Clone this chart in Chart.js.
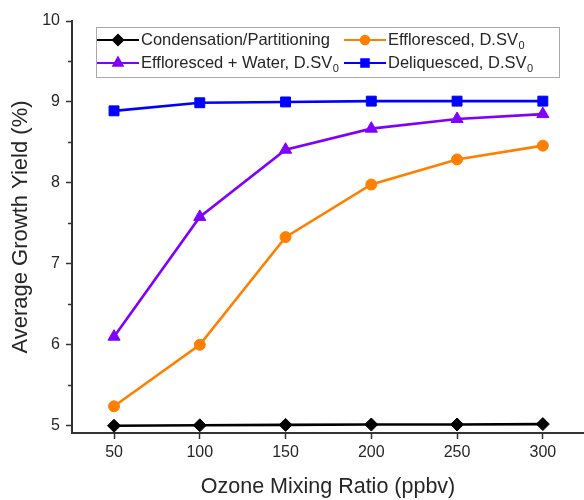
<!DOCTYPE html>
<html>
<head>
<meta charset="utf-8">
<script src="https://cdn.jsdelivr.net/npm/chart.js@4/dist/chart.umd.min.js"></script>
<style>
  html, body { margin: 0; padding: 0; background: #fff; }
  #wrap { width: 584px; height: 500px; }
</style>
</head>
<body>
<div id="wrap"><canvas id="myChart"></canvas></div>
<script>
const ozone = [50, 100, 150, 200, 250, 300]
const condensation = [5.0, 5.005, 5.01, 5.015, 5.015, 5.02]
const effloresced = [5.24, 6.0, 7.33, 7.98, 8.29, 8.46]
const effloWater = [6.1, 7.58, 8.41, 8.67, 8.79, 8.85]
const deliquesced = [8.89, 8.99, 9.0, 9.01, 9.01, 9.01]

const xTicks = [50, 100, 150, 200, 250, 300]
const yTicks = [5, 6, 7, 8, 9, 10]
const yMinorTicks = [5.5, 6.5, 7.5, 8.5, 9.5]

const seriesNames = ['Condensation/Partitioning', 'Effloresced, D.SV', 'Effloresced + Water, D.SV', 'Deliquesced, D.SV']
const seriesSubs = ['', '0', '0', '0']

const FONT = "'Liberation Sans', Arial, sans-serif"
const AXIS = '#333'
const TEXT = '#262626'

const makeSet = (i, data, color, pointStyle, radius, legendRadius) => ({
    label: seriesNames[i] + seriesSubs[i],
    data: ozone.map((x, k) => ({ x, y: data[k] })),
    borderColor: color,
    backgroundColor: color,
    borderWidth: 2.6,
    pointStyle,
    pointRadius: radius,
    pointHoverRadius: radius,
    pointBorderWidth: 1,
    legendRadius,
    tension: 0,
    clip: false
})

const datasets = [
    makeSet(0, condensation, '#000000', 'rectRot', 6.5, 5),
    makeSet(1, effloresced, '#ff8000', 'circle', 5.5, 4.2),
    makeSet(2, effloWater, '#7f00ff', 'triangle', 7, 5.2),
    makeSet(3, deliquesced, '#0000ff', 'rect', 7, 5.2)
]

// order of the legend entries: two columns, two rows
const legendSlots = [
    { ds: 0, col: 0, row: 0 },
    { ds: 1, col: 1, row: 0 },
    { ds: 2, col: 0, row: 1 },
    { ds: 3, col: 1, row: 1 }
]

const legendBox = {
    id: 'legendBox',
    afterDraw(chart) {
        const ctx = chart.ctx
        const box = { left: 96.5, top: 27.5, right: 559.5, bottom: 77.5 }
        const colX = [97, 344]
        const rowY = [40, 63]

        ctx.save()
        ctx.strokeStyle = '#a8a8a8'
        ctx.lineWidth = 1
        ctx.strokeRect(box.left, box.top, box.right - box.left, box.bottom - box.top)

        legendSlots.forEach(slot => {
            const ds = chart.data.datasets[slot.ds]
            const x0 = colX[slot.col]
            const y = rowY[slot.row]

            ctx.strokeStyle = ds.borderColor
            ctx.fillStyle = ds.backgroundColor
            ctx.lineWidth = 2.2
            ctx.beginPath()
            ctx.moveTo(x0, y)
            ctx.lineTo(x0 + 42, y)
            ctx.stroke()
            Chart.helpers.drawPoint(ctx, {
                pointStyle: ds.pointStyle,
                radius: ds.legendRadius,
                rotation: 0,
                borderWidth: 1
            }, x0 + 21, y)

            ctx.fillStyle = TEXT
            ctx.textBaseline = 'middle'
            ctx.textAlign = 'left'
            ctx.font = `16.5px ${FONT}`
            const name = seriesNames[slot.ds]
            ctx.fillText(name, x0 + 44, y)
            const sub = seriesSubs[slot.ds]
            if (sub) {
                const w = ctx.measureText(name).width
                ctx.font = `11px ${FONT}`
                ctx.fillText(sub, x0 + 44 + w + 0.5, y + 5.5)
            }
        })
        ctx.restore()
    }
}

// short unlabelled ticks between the integer ticks on the y axis
const minorTicks = {
    id: 'minorTicks',
    afterDraw(chart) {
        const ctx = chart.ctx
        const yScale = chart.scales.y
        ctx.save()
        ctx.strokeStyle = AXIS
        ctx.lineWidth = 1.5
        yMinorTicks.forEach(v => {
            const py = Math.round(yScale.getPixelForValue(v)) + 0.5
            ctx.beginPath()
            ctx.moveTo(yScale.right - 4, py)
            ctx.lineTo(yScale.right, py)
            ctx.stroke()
        })
        ctx.restore()
    }
}

const config = {
    type: 'line',
    data: { datasets },
    options: {
        responsive: true,
        maintainAspectRatio: false,
        animation: false,
        layout: { autoPadding: false, padding: { top: 21, right: 0, left: 0, bottom: 0 } },
        plugins: {
            legend: { display: false },
            tooltip: { enabled: false }
        },
        scales: {
            x: {
                type: 'linear',
                min: 25.5,
                max: 324,
                afterBuildTicks: scale => { scale.ticks = xTicks.map(value => ({ value })) },
                afterFit: scale => {
                    scale.height = 67
                    scale.paddingLeft = 0
                    scale.paddingRight = 0
                },
                border: { color: AXIS, width: 2 },
                grid: { drawOnChartArea: false, tickLength: 6, tickColor: AXIS, tickWidth: 1.5 },
                ticks: { color: TEXT, font: { family: FONT, size: 16 }, padding: 4, maxRotation: 0 },
                title: {
                    display: true,
                    text: 'Ozone Mixing Ratio (ppbv)',
                    color: TEXT,
                    font: { family: FONT, size: 21.5 },
                    padding: { top: 2, bottom: 0 }
                }
            },
            y: {
                type: 'linear',
                min: 4.91,
                max: 10,
                afterBuildTicks: scale => { scale.ticks = yTicks.map(value => ({ value })) },
                afterFit: scale => { scale.width = 72 },
                border: { color: AXIS, width: 2 },
                grid: { drawOnChartArea: false, tickLength: 6, tickColor: AXIS, tickWidth: 1.5 },
                ticks: { color: TEXT, font: { family: FONT, size: 16 }, padding: 6 },
                title: {
                    display: true,
                    text: 'Average Growth Yield (%)',
                    color: TEXT,
                    font: { family: FONT, size: 22 },
                    padding: { top: 8, bottom: 0 }
                }
            }
        }
    },
    plugins: [legendBox, minorTicks]
}

const myChart = new Chart(document.getElementById('myChart'), config)
</script>
</body>
</html>
